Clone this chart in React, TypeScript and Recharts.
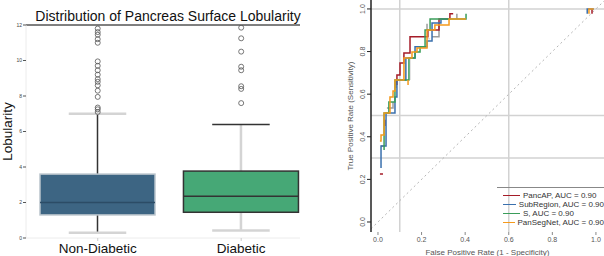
import React from "react";
import {
  ComposedChart,
  LineChart,
  Line,
  Bar,
  Scatter,
  XAxis,
  YAxis,
  ReferenceLine,
  Legend,
} from "recharts";

// ---- left panel: box plot ----
const categories = ["Non-Diabetic", "Diabetic"];
const whiskerLow = [0.3, 0.42];
const q1 = [1.3, 1.45];
const median = [2.0, 2.35];
const q3 = [3.6, 3.77];
const whiskerHigh = [7.0, 6.4];
const outliersNonDiabetic = [
  7.1, 7.25, 7.35, 7.95, 8.3, 8.6, 8.8, 8.95, 9.2, 9.45, 9.7, 9.95, 11.0, 11.2, 11.45, 11.6, 11.8,
];
const outliersDiabetic = [7.6, 8.4, 8.55, 9.45, 9.65, 10.5, 11.25, 11.85];
const lobTicks = [0, 2, 4, 6, 8, 10, 12];

// ---- right panel: ROC curves (fpr, tpr), null = break ----
type Pt = [number, number | null];
const pancApRoc: Pt[] = [
  [0.009, 0.225], [0.023, 0.225], [0.023, null],
  [0.032, 0.45], [0.032, 0.48], [0.032, null],
  [0.087, 0.643], [0.087, 0.69], [0.101, 0.69], [0.101, 0.746], [0.119, 0.746], [0.119, 0.793],
  [0.147, 0.793], [0.147, 0.869], [0.229, 0.869], [0.229, 0.901], [0.28, 0.901], [0.28, 0.953],
  [0.33, 0.953], [0.33, 0.977], [0.345, 0.977], [0.345, null],
  [0.982, 0.977], [0.982, 1.0],
];
const subRegionRoc: Pt[] = [
  [0.014, 0.254], [0.014, 0.357], [0.037, 0.357], [0.037, 0.512], [0.078, 0.512], [0.078, 0.587],
  [0.087, 0.587], [0.087, 0.667], [0.128, 0.667], [0.128, 0.77], [0.17, 0.77], [0.17, 0.822],
  [0.225, 0.822], [0.225, 0.85], [0.248, 0.85], [0.248, 0.934], [0.289, 0.934], [0.289, 0.953],
  [0.33, 0.953], [0.33, null],
  [0.96, 0.977], [0.96, 1.0], [0.99, 1.0],
];
const lsRoc: Pt[] = [
  [0.028, 0.338], [0.028, 0.512], [0.05, 0.512], [0.05, 0.563], [0.078, 0.563], [0.078, 0.667],
  [0.142, 0.667], [0.142, 0.77], [0.17, 0.77], [0.17, 0.798], [0.193, 0.798], [0.193, 0.822],
  [0.216, 0.822], [0.216, 0.901], [0.239, 0.901], [0.239, 0.953], [0.404, 0.953], [0.404, 0.977],
];
const panSegNetRoc: Pt[] = [
  [0.009, 0.38], [0.014, 0.38], [0.014, 0.408], [0.028, 0.408], [0.028, 0.512], [0.055, 0.512],
  [0.055, 0.587], [0.069, 0.587], [0.069, 0.615], [0.078, 0.615], [0.078, 0.667], [0.119, 0.667],
  [0.119, 0.77], [0.156, 0.77], [0.156, 0.798], [0.179, 0.798], [0.179, 0.817], [0.225, 0.817],
  [0.225, 0.901], [0.261, 0.901], [0.261, 0.925], [0.326, 0.925], [0.326, 0.953], [0.404, 0.953],
  [0.404, null],
  [0.138, 0.667], [0.138, 0.643], [0.138, null],
  [0.968, 0.977], [0.968, 1.0], [0.99, 1.0],
];
const grayRoc: Pt[] = [
  [0.014, 0.357], [0.032, 0.357], [0.032, null],
  [0.041, 0.535], [0.069, 0.535], [0.069, 0.563], [0.069, null],
  [0.083, 0.629], [0.083, 0.667], [0.083, null],
  [0.225, 0.901], [0.225, 0.93], [0.225, null],
  [0.248, 0.869], [0.28, 0.869], [0.28, 0.925], [0.28, null],
  [0.362, 0.953], [0.362, 0.977],
];
const lightGrayRoc: Pt[] = [
  [0.124, 0.667], [0.124, 0.746], [0.124, null],
  [0.147, 0.667], [0.147, 0.77], [0.147, null],
  [0.225, 0.86], [0.239, 0.86],
];
const seriesNames = ["PancAP, AUC = 0.90", "SubRegion, AUC = 0.90", "S, AUC = 0.90", "PanSegNet, AUC = 0.90"];
const fprTicks = [0, 0.2, 0.4, 0.6, 0.8, 1.0];
const tprTicks = [0, 0.2, 0.4, 0.6, 0.8, 1.0];
const gridX = [0.1, 0.6];
const gridY = [1.0, 0.5, 0.3];

const FONT = "'Liberation Sans', Arial, sans-serif";

const boxStyles: Record<string, any> = {
  "Non-Diabetic": {
    fill: "#3d6583", edge: "#b9c4cc", median: "#2c4c66",
    stem: "#333333", capTop: "#d4d4d4", capBottom: "#d4d4d4",
  },
  Diabetic: {
    fill: "#46a876", edge: "#333333", median: "#333333",
    stem: "#d4d4d4", capTop: "#333333", capBottom: "#d4d4d4",
  },
};

const boxRows = categories.map((name, i) => ({
  pos: i,
  name,
  range: [whiskerLow[i], whiskerHigh[i]],
  q1: q1[i],
  median: median[i],
  q3: q3[i],
}));

const outlierRows = [
  ...outliersNonDiabetic.map((v) => ({ pos: 0, value: v })),
  ...outliersDiabetic.map((v) => ({ pos: 1, value: v })),
];

const toRows = (pts: Pt[]) => pts.map(([fpr, tpr]) => ({ fpr, tpr }));

function BoxShape(props: any) {
  const { x, y, width, height, payload } = props;
  const [lo, hi] = payload.range;
  const top = Math.min(y, y + height);
  const bot = Math.max(y, y + height);
  const toY = (v: number) => top + ((hi - v) / (hi - lo)) * (bot - top);
  const st = boxStyles[payload.name];
  const cx = x + width / 2;
  const cap = width / 4;
  const yQ1 = toY(payload.q1);
  const yQ3 = toY(payload.q3);
  const yMed = toY(payload.median);
  const stemW = st.stem === "#333333" ? 1.5 : 2.5;
  return (
    <g>
      <line x1={cx} x2={cx} y1={top} y2={yQ3} stroke={st.stem} strokeWidth={stemW} />
      <line x1={cx} x2={cx} y1={yQ1} y2={bot} stroke={st.stem} strokeWidth={stemW} />
      <line x1={cx - cap} x2={cx + cap} y1={top} y2={top} stroke={st.capTop}
        strokeWidth={st.capTop === "#333333" ? 1.5 : 2.5} />
      <line x1={cx - cap} x2={cx + cap} y1={bot} y2={bot} stroke={st.capBottom} strokeWidth={2.5} />
      <rect x={x} y={yQ3} width={width} height={yQ1 - yQ3} fill={st.fill} stroke={st.edge} strokeWidth={1.5} />
      <line x1={x} x2={x + width} y1={yMed} y2={yMed} stroke={st.median} strokeWidth={1.5} />
    </g>
  );
}

const CategoryTick = (props: any) => {
  const { x, y, payload } = props;
  return (
    <text x={x} y={y} dy="0.71em" textAnchor="middle" fontSize={13.5} fill="#111" fontFamily={FONT}>
      {categories[payload.value]}
    </text>
  );
};

const RotatedTick = (props: any) => {
  const { x, y, payload } = props;
  return (
    <text x={x} y={y} transform={`rotate(-90 ${x} ${y})`} textAnchor="middle" fontSize={7}
      fill="#555" fontFamily={FONT}>
      {payload.value.toFixed(1)}
    </text>
  );
};

function RocLegend(props: any) {
  const items = (props.payload || [])
    .filter((e: any) => seriesNames.includes(e.value))
    .sort((a: any, b: any) => seriesNames.indexOf(a.value) - seriesNames.indexOf(b.value));
  return (
    <div style={{ borderTop: "1px solid #888", paddingTop: 3, fontFamily: FONT, fontSize: 8, color: "#333" }}>
      {items.map((e: any) => (
        <div key={e.value} style={{ display: "flex", alignItems: "center", height: 9, whiteSpace: "nowrap" }}>
          <span style={{ display: "inline-block", width: 17, borderTop: `1.5px solid ${e.color}`, marginLeft: 6, marginRight: 3 }} />
          <span>{e.value}</span>
        </div>
      ))}
    </div>
  );
}

export default function App() {
  return (
    <div style={{ position: "absolute", left: 0, top: 0, width: 604, height: 256, background: "#fff", overflow: "hidden" }}>
      <div style={{ position: "absolute", left: 31, top: 8, width: 274, textAlign: "center", fontFamily: FONT, fontSize: 14, lineHeight: "16px", color: "#111", whiteSpace: "nowrap" }}>
        Distribution of Pancreas Surface Lobularity
      </div>
      <div style={{ position: "absolute", left: 0, top: 0 }}>
        <ComposedChart width={340} height={256} data={boxRows} margin={{ top: 25, right: 40, bottom: 0, left: 0 }}>
          <XAxis type="number" dataKey="pos" domain={[-0.5, 1.41]} ticks={[0, 1]} height={18}
            axisLine={{ stroke: "#ececec" }} tickLine={{ stroke: "#ccc" }} tickSize={3} tickMargin={2}
            tick={<CategoryTick />} allowDataOverflow />
          <YAxis type="number" domain={[0, 12]} ticks={lobTicks} width={26} allowDataOverflow
            axisLine={{ stroke: "#ececec" }} tickLine={{ stroke: "#555" }} tickSize={3} tickMargin={1}
            tick={{ fontSize: 5, fill: "#444", fontFamily: FONT }}
            label={{ value: "Lobularity", angle: -90, position: "insideLeft", offset: 7.5,
              style: { textAnchor: "middle", fontSize: 13.5, fill: "#111", fontFamily: FONT } }} />
          <ReferenceLine y={12} stroke="#000" strokeWidth={1} />
          <Bar dataKey="range" barSize={115} shape={<BoxShape />} isAnimationActive={false} />
          <Scatter data={outlierRows} dataKey="value" isAnimationActive={false}
            shape={(p: any) => <circle cx={p.cx} cy={p.cy} r={2.5} fill="none" stroke="#555" strokeWidth={0.8} />} />
        </ComposedChart>
      </div>
      <div style={{ position: "absolute", left: 340, top: 0 }}>
        <LineChart width={264} height={256} margin={{ top: 0, right: 0, bottom: 0, left: 0 }}>
          <XAxis type="number" dataKey="fpr" domain={[-0.032, 1.037]} ticks={fprTicks} allowDataOverflow
            height={24} axisLine={false} tickLine={{ stroke: "#888" }} tickSize={3} tickMargin={2}
            tick={{ fontSize: 7, fill: "#555", fontFamily: FONT }} tickFormatter={(v: number) => v.toFixed(1)}
            label={{ value: "False Positive Rate (1 - Specificity)", position: "insideBottom", offset: 1,
              style: { fontSize: 8, fill: "#555", fontFamily: FONT } }} />
          <YAxis type="number" domain={[-0.047, 1.042]} ticks={tprTicks} allowDataOverflow width={31}
            axisLine={{ stroke: "#222", strokeWidth: 1.5 }} tickLine={{ stroke: "#222" }} tickSize={4} tickMargin={2}
            tick={<RotatedTick />}
            label={{ value: "True Positive Rate (Sensitivity)", angle: -90, position: "insideLeft", offset: 10,
              style: { textAnchor: "middle", fontSize: 8, fill: "#555", fontFamily: FONT } }} />
          {gridX.map((v) => (
            <ReferenceLine key={"gx" + v} x={v} stroke="#d2d2d2" strokeWidth={1.5} />
          ))}
          {gridY.map((v) => (
            <ReferenceLine key={"gy" + v} y={v} stroke="#d2d2d2" strokeWidth={1.5} />
          ))}
          <ReferenceLine segment={[{ x: -0.032, y: -0.032 }, { x: 1.037, y: 1.037 }]}
            stroke="#b5b5b5" strokeDasharray="2 3" strokeWidth={1} />
          <Line data={toRows(lightGrayRoc)} dataKey="tpr" stroke="#dcdcdc" strokeWidth={1.5} dot={false}
            legendType="none" isAnimationActive={false} />
          <Line data={toRows(grayRoc)} dataKey="tpr" stroke="#9c9c9c" strokeWidth={1.5} dot={false}
            legendType="none" isAnimationActive={false} />
          <Line data={toRows(pancApRoc)} dataKey="tpr" name={seriesNames[0]} stroke="#a51c28"
            strokeWidth={1.5} dot={false} isAnimationActive={false} />
          <Line data={toRows(subRegionRoc)} dataKey="tpr" name={seriesNames[1]} stroke="#3a70ad"
            strokeWidth={1.5} dot={false} isAnimationActive={false} />
          <Line data={toRows(lsRoc)} dataKey="tpr" name={seriesNames[2]} stroke="#3a9d5a"
            strokeWidth={1.5} dot={false} isAnimationActive={false} />
          <Line data={toRows(panSegNetRoc)} dataKey="tpr" name={seriesNames[3]} stroke="#f59a1c"
            strokeWidth={1.5} dot={false} isAnimationActive={false} />
          <Legend layout="vertical" align="center" verticalAlign="middle" content={<RocLegend />}
            wrapperStyle={{ left: 157, top: 187, width: 107, right: "auto", bottom: "auto" }} />
        </LineChart>
      </div>
    </div>
  );
}
